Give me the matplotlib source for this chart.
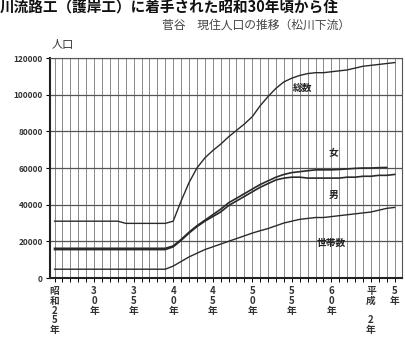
import numpy as np
import matplotlib
matplotlib.use('Agg')
import matplotlib.pyplot as plt
from matplotlib.ticker import MultipleLocator

plt.rcParams['font.family'] = ['Noto Sans CJK JP', 'DejaVu Sans']

# 年（西暦）
years = list(range(1950, 1994))

# 総数
total = [31000, 31000, 31000, 31000, 31000, 31000, 31000, 31000, 31000, 29800,
         29800, 29800, 29800, 29800, 29800, 31000, 42000, 52000, 60000, 65500,
         69500, 73000, 77000, 80500, 84000, 88000, 94000, 99000, 103500, 107000,
         109000, 110500, 111500, 112000, 112000, 112500, 113000, 113500, 114500, 115500,
         116000, 116500, 117000, 117500]

# 女
female = [16200] * 15 + [17500, 21000, 25000, 28500, 31500, 34500, 37500, 41000, 43500,
          46000, 48500, 51000, 53000, 55000, 56500, 57500, 58000, 58500, 59000,
          59000, 59000, 59200, 59500, 59800, 60000, 60000, 60200, 60300, 60400]

# 男
male = [15500] * 15 + [17000, 20500, 24500, 28000, 31000, 33500, 36000, 39500, 42000,
        44500, 47000, 49500, 51500, 53500, 54500, 55000, 55000, 54500, 54500,
        54500, 54500, 54500, 55000, 55000, 55500, 55500, 56000, 56000, 56500]

# 世帯数
households = [4800] * 15 + [6500, 9000, 11500, 13500, 15500, 17000, 18500, 20000, 21500,
              23000, 24500, 25800, 27000, 28500, 30000, 31000, 32000, 32500, 33000,
              33000, 33500, 34000, 34500, 35000, 35500, 36000, 37000, 38000, 38500]

# 目盛りラベル
xtick_years = [1950, 1955, 1960, 1965, 1970, 1975, 1980, 1985, 1990, 1993]
xtick_labels = ['昭\n和\n2\n5\n年', '3\n0\n年', '3\n5\n年', '4\n0\n年', '4\n5\n年',
                '5\n0\n年', '5\n5\n年', '6\n0\n年', '平\n成\n\n2\n年', '5\n年']
yticks = [0, 20000, 40000, 60000, 80000, 100000, 120000]

fig = plt.figure(figsize=(4.05, 3.59), dpi=100)
ax = fig.add_axes([0.123, 0.2256, 0.869, 0.6128])

line_color = '#2a2a2a'
ax.plot(years, total, color=line_color, lw=1.0)
ax.plot(years[:-1], female[:-1], color=line_color, lw=1.2)
ax.plot(years, male, color=line_color, lw=1.2)
ax.plot(years, households, color=line_color, lw=1.0)

ax.set_xlim(1949.4, 1993.9)
ax.set_ylim(0, 120000)

# グリッド
ax.xaxis.set_minor_locator(MultipleLocator(1))
ax.grid(which='minor', axis='x', color='#8a8a8a', lw=0.7)
ax.grid(which='major', axis='x', color='#8a8a8a', lw=0.7)
ax.grid(which='major', axis='y', color='#555555', lw=0.9)
ax.set_axisbelow(True)

ax.set_xticks(xtick_years)
ax.set_xticklabels(xtick_labels, fontsize=7, fontweight='bold', va='top',
                   linespacing=0.95, color='#333333')
ax.set_yticks(yticks)
ax.set_yticklabels([str(v) for v in yticks], fontsize=6, fontweight='bold', color='#333333')
ax.tick_params(axis='x', which='both', direction='out', length=3, width=0.7, pad=3)
ax.tick_params(axis='y', direction='out', length=3, width=0.8, pad=2)

for s in ['left', 'bottom']:
    ax.spines[s].set_linewidth(1.5)
    ax.spines[s].set_color('#222222')
for s in ['top', 'right']:
    ax.spines[s].set_linewidth(0.8)
    ax.spines[s].set_color('#555555')

# 系列ラベル
ax.text(1981.3, 103500, '総数', fontsize=7, fontweight='bold', ha='center', va='center', color='#222222')
ax.text(1985.3, 68000, '女', fontsize=7, fontweight='bold', ha='center', va='center', color='#222222')
ax.text(1985.3, 45200, '男', fontsize=7, fontweight='bold', ha='center', va='center', color='#222222')
ax.text(1985.0, 19000, '世帯数', fontsize=7, fontweight='bold', ha='center', va='center', color='#222222')

# 軸ラベル・タイトル
fig.text(0.155, 0.875, '人口', fontsize=8, ha='center', va='center', color='#333333')
fig.text(0.40, 0.93, '菅谷　現住人口の推移（松川下流）', fontsize=8.5, ha='left',
         va='center', color='#444444')
fig.text(0.0, 1.0, '川流路工（護岸工）に着手された昭和30年頃から住', fontsize=10.5,
         fontweight='bold', ha='left', va='top', color='#111111')

fig.savefig('out.png', dpi=100)
